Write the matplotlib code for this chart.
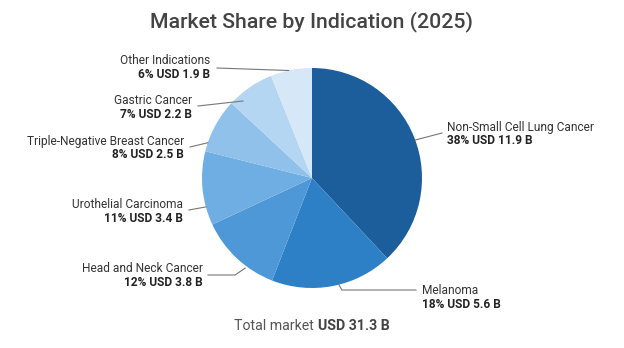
import numpy as np
import matplotlib.pyplot as plt

plt.rcParams['font.family'] = ['Roboto', 'DejaVu Sans']

labels = ['Non-Small Cell Lung Cancer', 'Melanoma', 'Head and Neck Cancer',
          'Urothelial Carcinoma', 'Triple-Negative Breast Cancer',
          'Gastric Cancer', 'Other Indications']
values = [11.9, 5.6, 3.8, 3.4, 2.5, 2.2, 1.9]
shares = [38, 18, 12, 11, 8, 7, 6]
total = 31.3
colors = ['#1b5e9b', '#2d80c5', '#4f98d8', '#6eaee2', '#8fc1ea', '#b4d6f2', '#d6e8f8']

# label layout in pixels (y from top): text x, text centre y, leader y at the label end
label_pos = [(447, 134), (422, 297), (203, 276), (183, 211), (184, 148), (192, 107), (210, 68)]
line_y = [133, 290, 275, 210, 147, 106, 68]
elbow_x = [442, 416, 235, 189, 190, 198, 217]
# where the leader touches each wedge
anchor_frac = [0.51, 0.45, 0.35, 0.25, 0.16, 0.21, 0.44]
anchor_r = [1.0, 1.0, 1.02, 1.0, 1.0, 0.94, 1.0]

W, H = 624, 348
fig = plt.figure(figsize=(W / 100, H / 100), dpi=100)
ax = fig.add_axes([0, 0, 1, 1])

cx, cy, R = 312, H - 178, 110
wedges, _ = ax.pie(values, colors=colors, startangle=90, counterclock=False,
                   center=(cx, cy), radius=R, frame=True,
                   wedgeprops=dict(linewidth=0))
ax.set_xlim(0, W)
ax.set_ylim(0, H)
ax.axis('off')

for i, w in enumerate(wedges):
    t = w.theta1 + (w.theta2 - w.theta1) * (1 - anchor_frac[i])
    px = cx + R * anchor_r[i] * np.cos(np.radians(t))
    py = cy + R * anchor_r[i] * np.sin(np.radians(t))
    lx, ly = label_pos[i]
    ly = H - ly
    yy = H - line_y[i]
    right = lx > cx
    ex = elbow_x[i]
    if i == 1 or i == 2:
        # bend then run flat to the label
        end = (lx - 6) if right else (lx + 5)
        ax.plot([px, px + (3 if right else -10), end], [py, yy, yy], color='#777777', lw=0.8)
    else:
        ax.plot([px, ex], [py, yy], color='#777777', lw=0.8)
    ha = 'left' if right else 'right'
    ax.text(lx, ly + 0.5, labels[i], ha=ha, va='bottom', fontsize=8.6, color='#333333')
    ax.text(lx, ly - 0.5, f'{shares[i]}% USD {values[i]} B', ha=ha, va='top',
            fontsize=8.6, fontweight='bold', color='#222222')

fig.text(312 / W, 1 - 22 / H, 'Market Share by Indication (2025)', ha='center', va='center',
         fontsize=15.3, fontweight='medium', color='#444444')
fig.text(314 / W, 1 - 326 / H, 'Total market', ha='right', va='center', fontsize=10.2,
         color='#555555')
fig.text(318 / W, 1 - 326 / H, f'USD {total} B', ha='left', va='center', fontsize=10.2,
         fontweight='bold', color='#444444')

fig.savefig('out.png', dpi=100, facecolor='white')
